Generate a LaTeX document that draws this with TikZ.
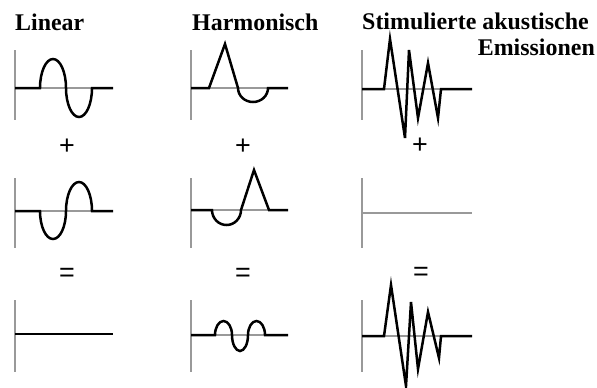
\documentclass[tikz,border=0pt]{standalone}
\usepackage{fontspec}
\setmainfont{Liberation Serif}
\newfontfamily\opsans{Liberation Sans}
\begin{document}
\begin{tikzpicture}[x=1bp,y=-1bp,
  axisline/.style={draw=black!40,line width=1.3bp},
  trace/.style={draw=black,line width=2.5bp,line join=miter},
  title/.style={anchor=base west,inner sep=0pt,font=\fontsize{24}{28}\selectfont\bfseries},
  opsym/.style={inner sep=0pt,font=\opsans\fontsize{27}{30}\selectfont}]
\useasboundingbox (0,0) rectangle (597,387);
% titles
\node[title] (tLin) at (15,30.5) {Linear};
\node[title] (tHar) at (192,30.5) {Harmonisch};
\node[title] (tSti) at (362,29.5) {Stimulierte akustische};
\node[title,anchor=base east] (tEmi) at (595,55) {Emissionen};
% operators
\node[opsym] (p1) at (67,147) {+};
\node[opsym] (p2) at (243,147) {+};
\node[opsym] (p3) at (420,146) {+};
\node[opsym] (e1) at (67,274.5) {=};
\node[opsym] (e2) at (243,274.5) {=};
\node[opsym] (e3) at (421,273.5) {=};
% ---- row 1 ----
\draw[axisline] (15,50) -- (15,120) (15,88) -- (113,88);
\draw[trace] (15,88) -- (40,88) arc[start angle=180,end angle=360,x radius=13,y radius=29]
  arc[start angle=180,end angle=0,x radius=13,y radius=29] -- (113,88);
\draw[axisline] (191,50) -- (191,120) (191,88) -- (288,88);
\draw[trace] (191,88) -- (209,88) -- (225,44) -- (238,88)
  arc[start angle=180,end angle=0,x radius=15,y radius=14] -- (288,88);
\draw[axisline] (362,50) -- (362,120) (362,89) -- (472,89);
\draw[trace] (362,89) -- (384,89) -- (390,39) -- (405,138) -- (409,50) -- (418,118) -- (428,63) -- (438,118) -- (441,89) -- (472,89);
% ---- row 2 ----
\draw[axisline] (15,178) -- (15,248) (15,211) -- (113,211);
\draw[trace] (15,211) -- (40,211) arc[start angle=180,end angle=0,x radius=13,y radius=28]
  arc[start angle=180,end angle=360,x radius=13,y radius=29] -- (113,211);
\draw[axisline] (191,178) -- (191,248) (191,210) -- (288,210);
\draw[trace] (191,210) -- (212,210) arc[start angle=180,end angle=0,x radius=14.5,y radius=15]
  -- (254,170) -- (269,210) -- (288,210);
\draw[axisline] (362,178) -- (362,248) (362,213) -- (472,213);
% ---- row 3 ----
\draw[axisline] (15,300) -- (15,372);
\draw[trace] (15,334) -- (113,334);
\draw[axisline] (191,300) -- (191,372) (191,335) -- (288,335);
\draw[trace] (191,335) -- (215,335) arc[start angle=180,end angle=360,x radius=8.5,y radius=14]
  arc[start angle=180,end angle=0,x radius=8,y radius=16]
  arc[start angle=180,end angle=360,x radius=8.5,y radius=14] -- (288,335);
\draw[axisline] (362,300) -- (362,372) (362,336) -- (472,336);
\draw[trace] (362,336) -- (384,336) -- (391,285) -- (406,386) -- (411,302) -- (418,369) -- (428,312) -- (439,358) -- (441,336) -- (472,336);
\end{tikzpicture}
\end{document}
